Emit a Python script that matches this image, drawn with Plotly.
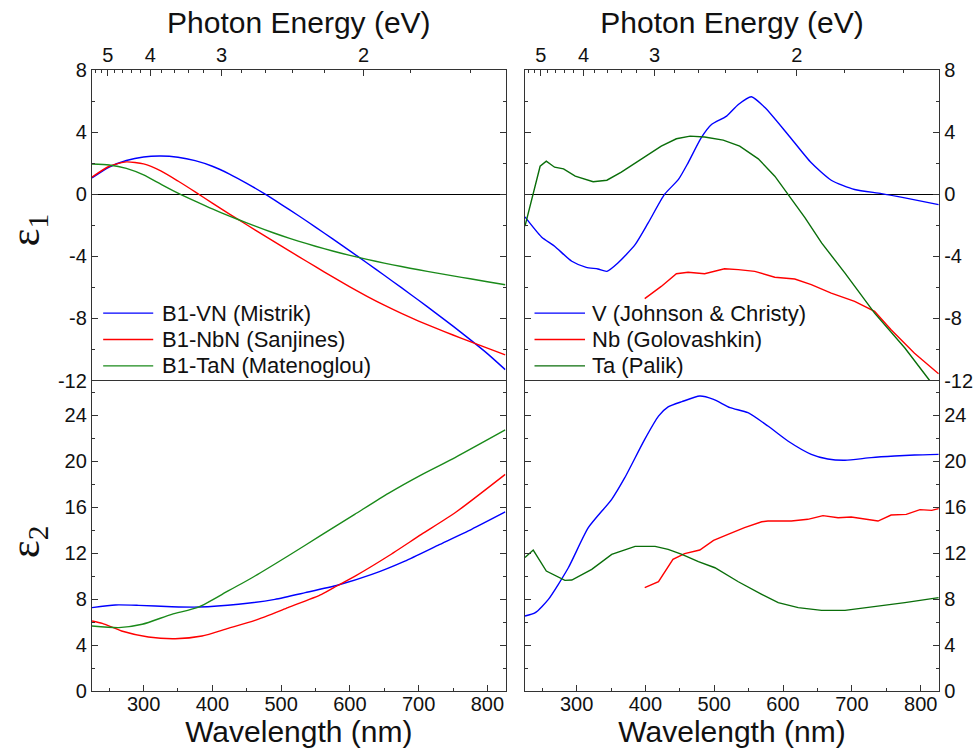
import plotly.graph_objects as go

# ---------------- dielectric function data (wavelength in nm) ----------------
# Rock-salt nitrides, real part
vn_e1_wl = [225, 250, 275, 300, 325, 350, 375, 400, 425, 450, 475, 500, 525, 550,
            575, 600, 625, 650, 675, 700, 725, 750, 775, 800, 826]
vn_e1 = [1.05, 1.75, 2.17, 2.4, 2.46, 2.38, 2.16, 1.8, 1.3, 0.7, 0.05, -0.65, -1.37,
         -2.12, -2.88, -3.65, -4.43, -5.22, -6.02, -6.83, -7.66, -8.5, -9.37,
         -10.27, -11.3]

nbn_e1_wl = [225, 250, 275, 300, 325, 350, 375, 400, 425, 450, 475, 500, 525, 550,
             575, 600, 625, 650, 675, 700, 725, 750, 775, 800, 826]
nbn_e1 = [1.1, 1.8, 2.08, 1.95, 1.5, 0.85, 0.15, -0.58, -1.28, -1.97, -2.65, -3.33,
          -4.0, -4.67, -5.33, -5.97, -6.58, -7.15, -7.68, -8.17, -8.63, -9.07,
          -9.5, -9.92, -10.35]

tan_e1_wl = [225, 250, 275, 300, 325, 350, 375, 400, 425, 450, 475, 500, 525, 550,
             575, 600, 625, 650, 675, 700, 725, 750, 775, 800, 826]
tan_e1 = [1.95, 1.88, 1.66, 1.24, 0.65, 0.07, -0.45, -0.95, -1.41, -1.85, -2.27,
          -2.66, -3.02, -3.35, -3.66, -3.94, -4.2, -4.44, -4.66, -4.87, -5.07,
          -5.26, -5.45, -5.64, -5.83]

# Rock-salt nitrides, imaginary part
vn_e2_wl = [225, 259, 293, 341, 380, 438, 491, 535, 583, 632, 680, 728, 777, 826]
vn_e2 = [7.25, 7.48, 7.45, 7.33, 7.3, 7.54, 7.97, 8.55, 9.22, 10.14, 11.3, 12.67,
         14.06, 15.57]

nbn_e2_wl = [225, 240, 268, 307, 346, 385, 423, 462, 510, 559, 581, 607, 656, 704,
             753, 826]
nbn_e2 = [6.09, 5.88, 5.22, 4.7, 4.55, 4.78, 5.45, 6.14, 7.25, 8.41, 9.13, 9.97,
          11.74, 13.62, 15.5, 18.84]

tan_e2_wl = [225, 264, 298, 341, 380, 423, 462, 510, 559, 607, 656, 704, 753, 826]
tan_e2 = [5.65, 5.51, 5.8, 6.67, 7.3, 8.7, 10.0, 11.74, 13.57, 15.36, 17.19, 18.8,
          20.3, 22.7]

# Elemental metals, real part
v_e1_wl = [225, 249, 268, 293, 314, 331, 344, 360, 385, 404, 428, 448, 462, 481,
           496, 518, 535, 554, 574, 607, 641, 670, 704, 743, 777, 826]
v_e1 = [-1.46, -2.75, -3.35, -4.32, -4.71, -4.82, -4.97, -4.43, -3.25, -1.85, 0.0,
        0.95, 2.02, 3.63, 4.49, 5.03, 5.78, 6.28, 5.57, 3.85, 2.02, 0.9, 0.3, 0.04,
        -0.24, -0.67]

nb_e1_wl = [399, 423, 445, 462, 486, 515, 535, 559, 588, 617, 641, 670, 704, 733,
            757, 791, 826]
nb_e1 = [-6.73, -5.94, -5.12, -5.03, -5.12, -4.8, -4.86, -4.97, -5.35, -5.46, -5.83,
         -6.37, -6.9, -7.55, -8.73, -10.24, -11.57]

ta_e1_wl = [225, 237, 247, 256, 268, 281, 298, 324, 344, 365, 394, 423, 445, 465,
            486, 513, 537, 564, 588, 607, 632, 656, 690, 733, 777, 813, 826]
ta_e1 = [-2.06, 0.0, 1.8, 2.13, 1.74, 1.63, 1.16, 0.8, 0.9, 1.42, 2.24, 3.1, 3.57,
         3.74, 3.68, 3.48, 3.1, 2.28, 1.16, 0.0, -1.53, -3.14, -5.08, -7.66, -9.91,
         -12.0, -12.6]

# Elemental metals, imaginary part
v_e2_wl = [225, 240, 259, 288, 317, 351, 370, 399, 419, 433, 453, 479, 499, 523,
           549, 578, 607, 641, 665, 690, 728, 762, 791, 826]
v_e2 = [6.52, 6.81, 7.97, 10.72, 14.2, 16.67, 18.55, 21.88, 23.9, 24.7, 25.16,
        25.65, 25.36, 24.64, 24.2, 23.04, 21.74, 20.58, 20.17, 20.06, 20.29, 20.43,
        20.52, 20.58]

nb_e2_wl = [399, 419, 440, 457, 479, 499, 520, 544, 569, 578, 612, 636, 658, 680,
            699, 719, 738, 757, 779, 799, 816, 826]
nb_e2 = [8.99, 9.5, 11.45, 11.94, 12.26, 13.1, 13.62, 14.2, 14.72, 14.78, 14.78,
         14.93, 15.25, 15.07, 15.13, 14.93, 14.78, 15.3, 15.36, 15.77, 15.71, 15.86]

ta_e2_wl = [225, 237, 256, 283, 293, 322, 351, 385, 414, 433, 453, 477, 501, 535,
            569, 593, 622, 656, 690, 728, 777, 826]
ta_e2 = [11.6, 12.26, 10.43, 9.62, 9.65, 10.58, 11.88, 12.58, 12.58, 12.32, 11.88,
         11.25, 10.72, 9.5, 8.41, 7.68, 7.25, 7.01, 7.01, 7.3, 7.68, 8.12]

# Series names shown in the two legends
nitride_names = ["B1-VN (Mistrik)", "B1-NbN (Sanjines)", "B1-TaN (Matenoglou)"]
metal_names = ["V (Johnson & Christy)", "Nb (Golovashkin)", "Ta (Palik)"]

# Photon-energy ticks for the top axes (E = hc / lambda)
HC = 1239.84
energy_major = [5, 4, 3, 2]
energy_minor = [5.4, 5.2, 4.8, 4.6, 4.4, 4.2, 3.8, 3.6, 3.4, 3.2, 2.8, 2.6, 2.4,
                2.2, 1.8, 1.6]

# permittivity tick labels (plain hyphen for negatives)
e1_ticks = [-12, -8, -4, 0, 4, 8]
e2_ticks = [0, 4, 8, 12, 16, 20, 24]

WL_RANGE = [225, 826.6]
BLUE, RED = "#0000ff", "#ff0000"
GREEN_N, GREEN_M = "#1a8a1a", "#0a6e0a"
SANS = "Liberation Sans, Arial, sans-serif"
SERIF = "Liberation Serif, Times New Roman, serif"
AX = "#333333"

fig = go.Figure()


def add(x, y, name, color, xa, ya, shape="spline"):
    fig.add_trace(go.Scatter(
        x=x, y=y, name=name, mode="lines",
        line=dict(color=color, width=1.4, shape=shape, smoothing=0.6),
        xaxis=xa, yaxis=ya, showlegend=False))


# left column: nitrides
nitride_colors = [BLUE, RED, GREEN_N]
add(vn_e1_wl, vn_e1, nitride_names[0], BLUE, "x", "y")
add(nbn_e1_wl, nbn_e1, nitride_names[1], RED, "x", "y")
add(tan_e1_wl, tan_e1, nitride_names[2], GREEN_N, "x", "y")
add(vn_e2_wl, vn_e2, nitride_names[0], BLUE, "x3", "y3")
add(nbn_e2_wl, nbn_e2, nitride_names[1], RED, "x3", "y3")
add(tan_e2_wl, tan_e2, nitride_names[2], GREEN_N, "x3", "y3")

# right column: metals
metal_colors = [BLUE, RED, GREEN_M]
add(v_e1_wl, v_e1, metal_names[0], BLUE, "x2", "y2")
add(nb_e1_wl, nb_e1, metal_names[1], RED, "x2", "y2", "linear")
add(ta_e1_wl, ta_e1, metal_names[2], GREEN_M, "x2", "y2", "linear")
add(v_e2_wl, v_e2, metal_names[0], BLUE, "x4", "y4")
add(nb_e2_wl, nb_e2, metal_names[1], RED, "x4", "y4", "linear")
add(ta_e2_wl, ta_e2, metal_names[2], GREEN_M, "x4", "y4", "linear")

LEFT_DOM = [0.0, 0.4884]
RIGHT_DOM = [0.5112, 1.0]
TOP_DOM = [0.5, 1.0]
BOT_DOM = [0.0, 0.5]

tick_font = dict(family=SANS, size=20, color="#111111")
title_font = dict(family=SANS, size=30, color="#111111")
eps_font = dict(family=SERIF, size=42, color="#111111")

common_axis = dict(showline=True, linecolor=AX, linewidth=1.3, showgrid=False,
                   ticks="inside", tickcolor=AX, tickwidth=1.2, ticklen=6,
                   tickfont=tick_font, automargin=False)


def energy_axis(domain, anchor):
    return dict(common_axis, domain=domain, anchor=anchor, side="top",
                range=WL_RANGE, mirror=False, zeroline=False,
                tickmode="array", tickvals=[HC / e for e in energy_major],
                ticktext=[str(e) for e in energy_major],
                ticklabelstandoff=-1,
                minor=dict(tickmode="array", tickvals=[HC / e for e in energy_minor],
                           ticks="inside", ticklen=3, tickcolor=AX, tickwidth=1.2),
                title=dict(text="Photon Energy (eV)", font=title_font, standoff=1))


def wl_axis(domain, anchor):
    return dict(common_axis, domain=domain, anchor=anchor, side="bottom",
                range=WL_RANGE, mirror=True, zeroline=False,
                tickmode="linear", tick0=300, dtick=100,
                ticklabelstandoff=-5,
                minor=dict(tickmode="linear", tick0=250, dtick=50, ticks="inside",
                           ticklen=3, tickcolor=AX, tickwidth=1.2),
                title=dict(text="Wavelength (nm)", font=title_font, standoff=2))


def eps_axis(domain, anchor, side, rng, ticks, zero=False):
    return dict(common_axis, domain=domain, anchor=anchor, side=side, range=rng,
                mirror="ticks", tickmode="array", tickvals=ticks,
                ticktext=[str(t) for t in ticks],
                minor=dict(tickmode="linear", tick0=0, dtick=2, ticks="inside",
                           ticklen=3, tickcolor=AX, tickwidth=1.2),
                zeroline=zero, zerolinecolor="#000000", zerolinewidth=1.2)


shapes, annotations = [], []

# Rotated permittivity labels at the far left of each row
for label, ypos in [("ε<sub>1</sub>", 0.742), ("ε<sub>2</sub>", 0.24)]:
    annotations.append(dict(text=label, xref="paper", yref="paper", x=-0.0756,
                            y=ypos, xanchor="center", yanchor="middle",
                            textangle=-90, showarrow=False, font=eps_font))

# Legends: a short line sample followed by the series name, inside each ε1 panel
legend_rows = [0.217, 0.132, 0.047]
for names, colors, xa, ya, x0, x1, xt in [
        (nitride_names, nitride_colors, "x", "y", 0.027, 0.148, 0.164),
        (metal_names, metal_colors, "x2", "y2", 0.023, 0.145, 0.157)]:
    for name, color, yr in zip(names, colors, legend_rows):
        shapes.append(dict(type="line", xref=f"{xa} domain", yref=f"{ya} domain",
                           x0=x0, x1=x1, y0=yr, y1=yr,
                           line=dict(color=color, width=1.4)))
        annotations.append(dict(text=name, xref=f"{xa} domain", yref=f"{ya} domain",
                                x=xt, y=yr, xanchor="left", yanchor="middle",
                                showarrow=False,
                                font=dict(family=SANS, size=22, color="#111111")))

fig.update_layout(
    width=977, height=754,
    margin=dict(l=92, r=38, t=70, b=63),
    paper_bgcolor="white", plot_bgcolor="white",
    font=dict(family=SANS, color="#111111"),
    showlegend=False,
    xaxis=energy_axis(LEFT_DOM, "y"),
    xaxis2=energy_axis(RIGHT_DOM, "y2"),
    xaxis3=wl_axis(LEFT_DOM, "y3"),
    xaxis4=wl_axis(RIGHT_DOM, "y4"),
    yaxis=eps_axis(TOP_DOM, "x", "left", [-12, 8], e1_ticks, zero=True),
    yaxis2=eps_axis(TOP_DOM, "x2", "right", [-12, 8], e1_ticks, zero=True),
    yaxis3=eps_axis(BOT_DOM, "x3", "left", [0, 27], e2_ticks),
    yaxis4=eps_axis(BOT_DOM, "x4", "right", [0, 27], e2_ticks),
    shapes=shapes,
    annotations=annotations,
)

fig.write_html("out.html")
